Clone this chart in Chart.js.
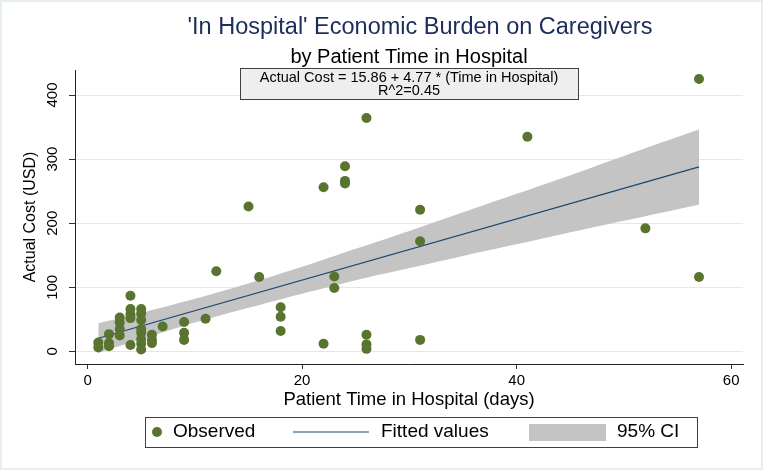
<!DOCTYPE html>
<html>
<head>
<meta charset="utf-8">
<script src="https://cdn.jsdelivr.net/npm/chart.js@4.4.1/dist/chart.umd.min.js"></script>
<style>
  html, body { margin: 0; padding: 0; background: #fff; }
  #wrap { width: 763px; height: 470px; }
</style>
</head>
<body>
<div id="wrap"><canvas id="costChart" width="763" height="470"></canvas></div>
<script>
// observed points: days in hospital / actual cost (USD)
const obsDays = [1, 1, 2, 2, 2, 3, 3, 3, 3, 4, 4, 4, 4, 4,
  5, 5, 5, 5, 5, 5, 5, 5, 6, 6, 6, 7, 9, 9, 9, 11, 12, 15, 16,
  18, 18, 18, 22, 22, 23, 23, 24, 24, 24, 26, 26, 26, 26,
  31, 31, 31, 41, 52, 57, 57];
const obsCost = [14, 6, 27, 13, 8, 53, 45, 35, 25, 87, 66, 58, 52, 10,
  66, 59, 49, 35, 29, 19, 12, 3, 26, 18, 13, 39, 46, 29, 18, 51, 125, 226, 116,
  69, 54, 32, 256, 12, 117, 99, 289, 266, 262, 364, 26, 11, 4,
  221, 172, 18, 335, 192, 425, 116];

// fitted line and 95% CI band
const fitDays = [1, 57];
const fitCost = [20.6, 287.8];
const ciDays = [1, 5, 10, 15, 20, 25, 30, 35, 40, 45, 50, 57];
const ciUpper = [44, 60, 82, 106, 132, 160, 188, 217, 246, 275, 305, 346];
const ciLower = [-2, 19, 45, 68, 90, 111, 130, 149, 167, 186, 204, 229];

const xTicks = [0, 20, 40, 60];
const yTicks = [0, 100, 200, 300, 400];

const titleText = "'In Hospital' Economic Burden on Caregivers";
const subtitleText = "by Patient Time in Hospital";
const noteLines = ["Actual Cost = 15.86 + 4.77 * (Time in Hospital)", "R^2=0.45"];
const legendLabels = ["Observed", "Fitted values", "95% CI"];

const FONT = '"Liberation Sans", Arial, Helvetica, sans-serif';
const GREEN = "#59742f";
const NAVY = "#1a476f";
const BAND = "#c4c4c4";

const toPoints = (xs, ys) => xs.map((x, i) => ({ x: x, y: ys[i] }));

const stataDecor = {
  id: "stataDecor",
  beforeDraw(chart) {
    const ctx = chart.ctx;
    ctx.save();
    ctx.fillStyle = "#fff";
    ctx.fillRect(0, 0, chart.width, chart.height);
    ctx.strokeStyle = "#e6eef1";
    ctx.lineWidth = 4;
    ctx.strokeRect(0, 0, chart.width, chart.height);
    ctx.restore();
  },
  afterDraw(chart) {
    const ctx = chart.ctx;
    const area = chart.chartArea;
    const cx = (area.left + area.right) / 2;
    ctx.save();
    ctx.textAlign = "center";
    ctx.textBaseline = "middle";
    ctx.fillStyle = "#1c2c5b";
    ctx.font = "23.5px " + FONT;
    ctx.fillText(titleText, cx + 11, 28);
    ctx.fillStyle = "#000";
    ctx.font = "20px " + FONT;
    ctx.fillText(subtitleText, cx, 57);

    // regression note box
    ctx.fillStyle = "#eeeeee";
    ctx.fillRect(240.5, 68.5, 338, 31);
    ctx.strokeStyle = "#404040";
    ctx.lineWidth = 1;
    ctx.strokeRect(240.5, 68.5, 338, 31);
    ctx.fillStyle = "#000";
    ctx.font = "14.5px " + FONT;
    ctx.fillText(noteLines[0], cx, 78);
    ctx.fillText(noteLines[1], cx, 91);

    // legend
    const ly = 432;
    ctx.strokeStyle = "#404040";
    ctx.strokeRect(145.5, 417.5, 552, 30);
    ctx.fillStyle = GREEN;
    ctx.beginPath();
    ctx.arc(157, ly, 5, 0, Math.PI * 2);
    ctx.fill();
    ctx.strokeStyle = NAVY;
    ctx.lineWidth = 1.2;
    ctx.beginPath();
    ctx.moveTo(293, ly);
    ctx.lineTo(369, ly);
    ctx.stroke();
    ctx.fillStyle = BAND;
    ctx.fillRect(529, 424, 77, 17);
    ctx.fillStyle = "#000";
    ctx.textAlign = "left";
    ctx.font = "19px " + FONT;
    ctx.fillText(legendLabels[0], 173, ly);
    ctx.fillText(legendLabels[1], 381, ly);
    ctx.fillText(legendLabels[2], 617, ly);
    ctx.restore();
  }
};

new Chart(document.getElementById("costChart"), {
  type: "scatter",
  data: {
    datasets: [
      {
        label: legendLabels[0],
        data: toPoints(obsDays, obsCost),
        backgroundColor: GREEN,
        borderWidth: 0,
        pointRadius: 5,
        order: 1
      },
      {
        label: legendLabels[1],
        type: "line",
        data: toPoints(fitDays, fitCost),
        borderColor: NAVY,
        borderWidth: 1.2,
        pointRadius: 0,
        fill: false,
        order: 2
      },
      {
        label: "ci upper",
        type: "line",
        data: toPoints(ciDays, ciUpper),
        borderWidth: 0,
        borderColor: BAND,
        backgroundColor: BAND,
        pointRadius: 0,
        tension: 0.3,
        fill: "+1",
        order: 3
      },
      {
        label: "ci lower",
        type: "line",
        data: toPoints(ciDays, ciLower),
        borderWidth: 0,
        borderColor: BAND,
        pointRadius: 0,
        tension: 0.3,
        fill: false,
        order: 4
      }
    ]
  },
  options: {
    responsive: false,
    animation: false,
    layout: { padding: { left: 0, right: 20, top: 70, bottom: 0 } },
    plugins: {
      legend: { display: false },
      tooltip: { enabled: false }
    },
    scales: {
      x: {
        type: "linear",
        min: -1.17,
        max: 61.1,
        afterBuildTicks: s => { s.ticks = xTicks.map(v => ({ value: v })); },
        afterFit: s => { s.height = 106; },
        grid: { drawOnChartArea: false, drawTicks: true, tickLength: 5, tickColor: "#333" },
        border: { display: true, color: "#222", width: 1 },
        ticks: { color: "#000", font: { family: FONT, size: 15 }, padding: 3, maxRotation: 0 },
        title: {
          display: true,
          text: "Patient Time in Hospital (days)",
          color: "#000",
          font: { family: FONT, size: 18.5 },
          padding: { top: 0, bottom: 59 }
        }
      },
      y: {
        type: "linear",
        min: -19.6,
        max: 439,
        afterBuildTicks: s => { s.ticks = yTicks.map(v => ({ value: v })); },
        afterFit: s => { s.width = 75; },
        grid: { color: "#dfe8ec", lineWidth: 1, drawTicks: true, tickLength: 6, tickColor: "#333" },
        border: { display: true, color: "#222", width: 1 },
        ticks: {
          color: "#000",
          font: { family: FONT, size: 15 },
          minRotation: 90,
          maxRotation: 90,
          crossAlign: "center",
          padding: 4
        },
        title: {
          display: true,
          text: "Actual Cost (USD)",
          color: "#000",
          font: { family: FONT, size: 16 },
          padding: { top: 21, bottom: 0 }
        }
      }
    }
  },
  plugins: [stataDecor]
});
</script>
</body>
</html>
